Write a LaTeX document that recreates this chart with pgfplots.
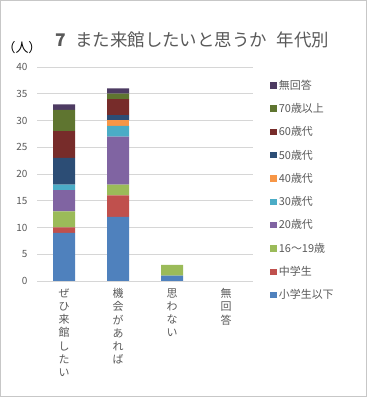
\documentclass[border=0pt]{standalone}
\usepackage{fontspec}
\setmainfont{Noto Sans CJK JP}
\usepackage{pgfplots}
\pgfplotsset{compat=1.18}
\definecolor{cA}{HTML}{4F81BD}
\definecolor{cB}{HTML}{C0504D}
\definecolor{cC}{HTML}{9BBB59}
\definecolor{cD}{HTML}{8064A2}
\definecolor{cE}{HTML}{4BACC6}
\definecolor{cF}{HTML}{F79646}
\definecolor{cG}{HTML}{2C4D75}
\definecolor{cH}{HTML}{772C2A}
\definecolor{cI}{HTML}{5F7530}
\definecolor{cJ}{HTML}{4D3B62}
\definecolor{txt}{HTML}{595959}
\begin{document}
\begin{tikzpicture}
\useasboundingbox (0,0) rectangle (367bp,397bp);
\draw[color=black!22, line width=0.8bp] (0.4bp,0.4bp) rectangle (366.6bp,396.6bp);
\node[font=\fontsize{17.5}{19}\selectfont, color=txt, anchor=center] at (192bp,357bp) {\textbf{7}\hspace{0.55em}また来館したいと思うか\hspace{0.55em}年代別};
\node[font=\fontsize{13}{14}\selectfont, color=black, anchor=center] at (22bp,349bp) {（人）};
\begin{axis}[
  at={(37bp,116bp)}, anchor=south west,
  scale only axis, width=216bp, height=214bp,
  ybar stacked, bar width=22bp,
  ymin=0, ymax=40, ytick={0,5,...,40},
  xmin=-0.5, xmax=3.5, xtick={0,1,2,3},
  xticklabels={{ぜ\\ひ\\来\\館\\し\\た\\い},{機\\会\\が\\あ\\れ\\ば},{思\\わ\\な\\い},{無\\回\\答}},
  xticklabel style={align=center, anchor=north, font=\fontsize{11}{13.3}\selectfont, color=txt, yshift=-4bp},
  yticklabel style={font=\fontsize{10}{11}\selectfont, color=txt, xshift=-6bp},
  /pgf/number format/assume math mode=true,
  axis line style={draw=none}, tick style={draw=none},
  ymajorgrids, grid style={color=black!16, line width=0.8bp},
  reverse legend,
  legend cell align=left,
  legend style={draw=none, fill=none, at={(1.08,0.95)}, anchor=north west,
    font=\fontsize{11}{12}\selectfont, text=txt, row sep=8.6bp, inner sep=0pt},
  legend image code/.code={\fill[#1] (0bp,-3.2bp) rectangle (6.4bp,3.2bp);},
]
\addplot[fill=cA, draw=none] coordinates {(0,9) (1,12) (2,1) (3,0)};
\addlegendentry{小学生以下}
\addplot[fill=cB, draw=none] coordinates {(0,1) (1,4) (2,0) (3,0)};
\addlegendentry{中学生}
\addplot[fill=cC, draw=none] coordinates {(0,3) (1,2) (2,2) (3,0)};
\addlegendentry{16～19歳}
\addplot[fill=cD, draw=none] coordinates {(0,4) (1,9) (2,0) (3,0)};
\addlegendentry{20歳代}
\addplot[fill=cE, draw=none] coordinates {(0,1) (1,2) (2,0) (3,0)};
\addlegendentry{30歳代}
\addplot[fill=cF, draw=none] coordinates {(0,0) (1,1) (2,0) (3,0)};
\addlegendentry{40歳代}
\addplot[fill=cG, draw=none] coordinates {(0,5) (1,1) (2,0) (3,0)};
\addlegendentry{50歳代}
\addplot[fill=cH, draw=none] coordinates {(0,5) (1,3) (2,0) (3,0)};
\addlegendentry{60歳代}
\addplot[fill=cI, draw=none] coordinates {(0,4) (1,1) (2,0) (3,0)};
\addlegendentry{70歳以上}
\addplot[fill=cJ, draw=none] coordinates {(0,1) (1,1) (2,0) (3,0)};
\addlegendentry{無回答}
\end{axis}
\end{tikzpicture}
\end{document}
